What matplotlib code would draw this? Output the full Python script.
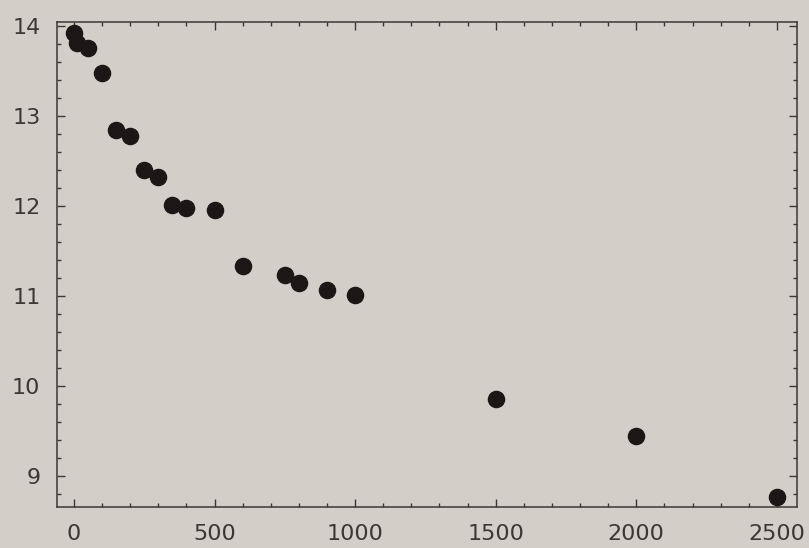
import matplotlib
matplotlib.use("Agg")
import matplotlib.pyplot as plt
from matplotlib.ticker import MultipleLocator

x_values = [0, 10, 50, 100, 150, 200, 250, 300, 350, 400, 500, 600, 750, 800, 900, 1000, 1500, 2000, 2500]
y_values = [13.93, 13.82, 13.76, 13.48, 12.85, 12.78, 12.40, 12.33, 12.02, 11.98, 11.96,
            11.34, 11.24, 11.15, 11.07, 11.02, 9.86, 9.45, 8.77]
x_ticks = [0, 500, 1000, 1500, 2000, 2500]
y_ticks = [9, 10, 11, 12, 13, 14]

bg = "#d3cec8"
ink = "#3a3735"

fig = plt.figure(figsize=(8.09, 5.48), dpi=100, facecolor=bg)
ax = fig.add_axes([0.0705, 0.075, 0.9145, 0.885], facecolor=bg)

ax.scatter(x_values, y_values, s=135, color="#1c1716", zorder=3, clip_on=False)

ax.set_xlim(-60, 2571)
ax.set_ylim(8.66, 14.05)
ax.set_xticks(x_ticks)
ax.set_yticks(y_ticks)
ax.xaxis.set_minor_locator(MultipleLocator(100))
ax.yaxis.set_minor_locator(MultipleLocator(0.2))

ax.tick_params(which="both", direction="in", top=True, right=True, color=ink,
               labelcolor=ink, labelsize=16, width=1.0)
ax.tick_params(which="major", length=6)
ax.tick_params(which="minor", length=3)
ax.tick_params(axis="x", pad=12)
ax.tick_params(axis="y", pad=12)
for s in ax.spines.values():
    s.set_color(ink)
    s.set_linewidth(1.1)

fig.savefig("out.png", dpi=100, facecolor=bg)
